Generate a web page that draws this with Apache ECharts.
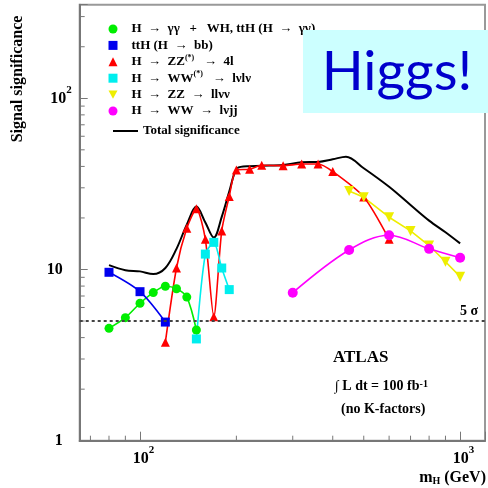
<!DOCTYPE html>
<html><head><meta charset="utf-8">
<script src="https://cdn.jsdelivr.net/npm/echarts@6/dist/echarts.min.js"></script>
<style>html,body{margin:0;padding:0;background:#fff}#c{width:488px;height:488px}</style>
</head><body><div id="c"></div>
<script>
// ---- data ----
const ggX = [80, 90, 100, 110, 120, 130, 140, 150];
const ggY = [4.53, 5.23, 6.35, 7.33, 7.98, 7.72, 6.9, 4.43];
const bbX = [80, 100, 120];
const bbY = [9.63, 7.42, 4.93];
const zzX = [120, 130, 140, 150, 160, 170, 180, 190, 200, 220, 240, 280, 320, 360, 400, 500, 600];
const zzY = [3.76, 10.2, 17.4, 22.6, 15.0, 5.3, 16.8, 26.7, 38.1, 38.5, 40.6, 40.4, 41.3, 41.3, 37.3, 26.5, 15.0];
const wwX = [150, 160, 170, 180, 190];
const wwY = [3.93, 12.3, 14.4, 10.2, 7.63];
const llvvX = [450, 500, 600, 700, 800, 900, 1000];
const llvvY = [28.7, 26.4, 20.2, 16.8, 13.8, 11.1, 9.08];
const lvjjX = [300, 450, 600, 800, 1000];
const lvjjY = [7.32, 13.0, 15.85, 13.2, 11.7];
const totX = [80, 90, 100, 110, 120, 130, 140, 150, 160, 170, 180, 190, 200, 210, 220, 240, 280, 320, 360, 400, 440, 500, 600, 700, 800, 900, 1000];
const totY = [10.6, 9.9, 9.75, 9.4, 10.2, 13.2, 18.3, 23.3, 18.8, 15.35, 20.3, 28.5, 38.6, 40.0, 40.1, 40.4, 40.8, 42.3, 42.5, 44.0, 45.6, 39.0, 30.4, 23.8, 19.3, 16.5, 14.2];
const fiveSigma = 5;
const xMin = 64.8, xMax = 1196, yMin = 1, yMax = 352;
const xMinorTicks = [70, 80, 90, 200, 300, 400, 500, 600, 700, 800, 900];
const yMinorTicks = [2, 3, 4, 5, 6, 7, 8, 9, 20, 30, 40, 50, 60, 70, 80, 90, 200, 300];
const names = ['H → γγ  +  WH, ttH (H → γγ)', 'ttH (H → bb)', 'H → ZZ(*) → 4l', 'H → WW(*) → lνlν', 'H → ZZ → llνν', 'H → WW → lνjj', 'Total significance'];
const legendLabels = {
  'H → γγ  +  WH, ttH (H → γγ)': 'H  →  γγ   +   WH, ttH (H  →  γγ)',
  'ttH (H → bb)': 'ttH (H  →  bb)',
  'H → ZZ(*) → 4l': 'H  →  ZZ{sup|(*)}   →  4l',
  'H → WW(*) → lνlν': 'H  →  WW{sup|(*)}   →  lνlν',
  'H → ZZ → llνν': 'H  →  ZZ  →  llνν',
  'H → WW → lνjj': 'H  →  WW  →  lνjj',
  'Total significance': 'Total significance'
};

const SERIF = "'Liberation Serif','DejaVu Serif',serif";
const zip = (xs, ys) => xs.map((x, i) => [x, ys[i]]);

function isPow10(v) { const l = Math.log10(v); return Math.abs(l - Math.round(l)) < 1e-6; }
function yLabel(v) {
  if (!isPow10(v)) return '';
  const e = Math.round(Math.log10(v));
  if (e === 0) return '{bp|1}';
  if (e === 1) return '{bp|10}';
  return '{b|10}{sup|' + e + '}';
}
function xLabel(v) {
  if (!isPow10(v)) return '';
  const e = Math.round(Math.log10(v));
  return '{bl|10}{sup|' + e + '}';
}
const mainTok = {fontFamily: SERIF, fontWeight: 'bold', fontSize: 16, lineHeight: 22, verticalAlign: 'bottom', color: '#000'};
const labelRich = {
  b: Object.assign({}, mainTok),
  bp: Object.assign({}, mainTok, {padding: [0, 9, 0, 0]}),
  bl: Object.assign({}, mainTok, {padding: [0, 0, 0, 7]}),
  sup: {fontFamily: SERIF, fontWeight: 'bold', fontSize: 11, lineHeight: 2, verticalAlign: 'top', color: '#000'}
};

function lineSeries(name, data, color, symbol, size, smooth, extra) {
  return Object.assign({
    type: 'line', name, data, smooth, symbol, symbolSize: size,
    itemStyle: {color}, lineStyle: {color, width: 1.6},
    emphasis: {disabled: true}, silent: true
  }, extra || {});
}

const legendText = {fontFamily: SERIF, fontWeight: 'bold', fontSize: 13, lineHeight: 16, color: '#000',
  rich: {
    sp: {width: 9, fontSize: 13, lineHeight: 16},
    sup: {fontFamily: SERIF, fontWeight: 'bold', fontSize: 8, lineHeight: 2, verticalAlign: 'top', color: '#000'}
  }};

const chart = echarts.init(document.getElementById('c'), null, {renderer: 'canvas'});
chart.setOption({
  animation: false,
  backgroundColor: '#fff',
  grid: {left: 79.7, right: 1.3, top: 4.7, bottom: 47.3, show: true, borderColor: '#999', borderWidth: 2, backgroundColor: 'transparent'},
  xAxis: {
    type: 'log', logBase: 10, min: xMin, max: xMax,
    axisLine: {show: true, lineStyle: {color: '#777', width: 2}},
    axisTick: {show: true, inside: true, length: 9, lineStyle: {color: '#777', width: 1}},
    splitLine: {show: false},
    axisLabel: {margin: 4, formatter: xLabel, rich: labelRich}
  },
  yAxis: {
    type: 'log', logBase: 10, min: yMin, max: yMax,
    axisLine: {show: true, lineStyle: {color: '#777', width: 2}},
    axisTick: {show: true, inside: true, length: 8, lineStyle: {color: '#777', width: 1}},
    splitLine: {show: false},
    axisLabel: {margin: 8, padding: [0, 0, 5, 0], formatter: yLabel, rich: labelRich}
  },
  legend: [{
    orient: 'vertical', left: 103.5, top: 16, itemWidth: 9, itemHeight: 9, itemGap: 0.4,
    selectedMode: false,
    data: [
      {name: names[0], icon: 'circle'},
      {name: names[1], icon: 'rect'},
      {name: names[2], icon: 'triangle'},
      {name: names[3], icon: 'rect'},
      {name: names[4], icon: 'path://M0,0L10,0L5,9Z'},
      {name: names[5], icon: 'circle'}
    ],
    formatter: n => '{sp| }' + legendLabels[n],
    textStyle: legendText
  }, {
    orient: 'vertical', left: 108, top: 118, itemWidth: 25, itemHeight: 2,
    selectedMode: false,
    data: [{name: names[6], icon: 'path://M0,0L25,0L25,2L0,2Z'}],
    formatter: n => legendLabels[n],
    textStyle: legendText
  }],
  series: [
    lineSeries(names[6], zip(totX, totY), '#000', 'none', 0, 0.35, {
      lineStyle: {color: '#000', width: 2},
      markLine: {
        silent: true, symbol: ['none', 'none'],
        data: [{yAxis: fiveSigma}],
        lineStyle: {color: '#444', type: [3, 3], width: 2},
        label: {show: true, position: 'insideEndTop', formatter: '5 σ', color: '#000', fontFamily: SERIF, fontWeight: 'bold', fontSize: 14, distance: 3, padding: [0, 4, 0, 0]},
        emphasis: {disabled: true}
      }
    }),
    lineSeries(names[0], zip(ggX, ggY), '#00ee00', 'circle', 9, 0.3),
    lineSeries(names[1], zip(bbX, bbY), '#0000ee', 'rect', 9, 0.3),
    lineSeries(names[2], zip(zzX, zzY), '#ff0000', 'triangle', 9, 0.25),
    lineSeries(names[3], zip(wwX, wwY), '#00eeee', 'rect', 9, 0.25),
    lineSeries(names[4], zip(llvvX, llvvY), '#eeee00', 'triangle', 10, false, {symbolRotate: 180}),
    lineSeries(names[5], zip(lvjjX, lvjjY), '#ff00ff', 'circle', 10, 0.35),
    {
      type: 'custom', name: 'xminor', silent: true,
      data: xMinorTicks.map(v => [v, yMin]),
      renderItem: (p, api) => {
        const c = api.coord([api.value(0), api.value(1)]);
        return {type: 'line', shape: {x1: c[0], y1: c[1], x2: c[0], y2: c[1] - 5}, style: {stroke: '#777', lineWidth: 1}};
      }
    },
    {
      type: 'custom', name: 'yminor', silent: true,
      data: yMinorTicks.map(v => [xMin, v]),
      renderItem: (p, api) => {
        const c = api.coord([api.value(0), api.value(1)]);
        return {type: 'line', shape: {x1: c[0], y1: c[1], x2: c[0] + 5, y2: c[1]}, style: {stroke: '#777', lineWidth: 1}};
      }
    }
  ],
  graphic: [
    {type: 'rect', z: 100, shape: {x: 303, y: 30, width: 186, height: 83}, style: {fill: '#ccffff'}},
    {type: 'text', z: 101, x: 397, y: 72, style: {text: 'Higgs!', fontFamily: "Lato, 'Noto Sans', sans-serif", fontSize: 55, fill: '#0000cc', align: 'center', verticalAlign: 'middle'}},
    {type: 'text', z: 101, x: 18, y: 79, rotation: Math.PI / 2, style: {text: 'Signal significance', fontFamily: SERIF, fontWeight: 'bold', fontSize: 16, fill: '#000', align: 'center', verticalAlign: 'middle'}},
    {type: 'text', z: 101, x: 486, y: 478, style: {text: 'm{sub|H} (GeV)', fontFamily: SERIF, fontWeight: 'bold', fontSize: 16, fill: '#000', align: 'right', verticalAlign: 'middle',
      rich: {sub: {fontFamily: SERIF, fontWeight: 'bold', fontSize: 10, lineHeight: 10, verticalAlign: 'bottom', fill: '#000'}}}},
    {type: 'text', z: 101, x: 333, y: 358, style: {text: 'ATLAS', fontFamily: SERIF, fontWeight: 'bold', fontSize: 17, fill: '#000', align: 'left', verticalAlign: 'middle'}},
    {type: 'text', z: 101, x: 335, y: 386, style: {text: '∫ L dt = 100 fb{sup|-1}', fontFamily: SERIF, fontWeight: 'bold', fontSize: 14, fill: '#000', align: 'left', verticalAlign: 'middle',
      rich: {sup: {fontFamily: SERIF, fontWeight: 'bold', fontSize: 10, lineHeight: 2, verticalAlign: 'top', fill: '#000'}}}},
    {type: 'text', z: 101, x: 341, y: 409, style: {text: '(no K-factors)', fontFamily: SERIF, fontWeight: 'bold', fontSize: 14, fill: '#000', align: 'left', verticalAlign: 'middle'}}
  ]
});
</script></body></html>
